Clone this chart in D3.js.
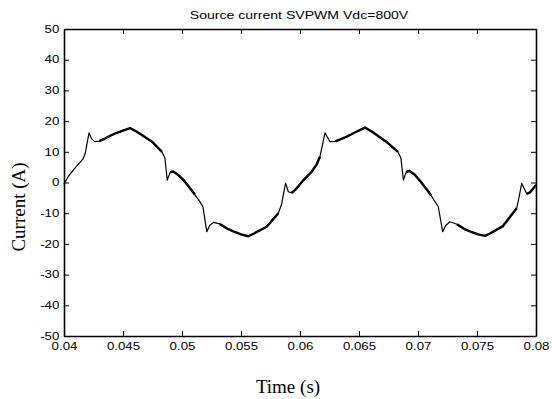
<!DOCTYPE html>
<html>
<head>
<meta charset="utf-8">
<script src="https://cdn.jsdelivr.net/npm/d3@7/dist/d3.min.js"></script>
<style>
body { margin: 0; background: #fff; }
svg { display: block; }
</style>
</head>
<body>
<svg id="chart" width="552" height="399"></svg>
<script>
// values
var time = [
	0.0400, 0.0404, 0.0410, 0.0416, 0.0418, 0.04212, 0.04235, 0.0426, 0.0430, 0.0435,
	0.0440, 0.04435, 0.0450, 0.0456, 0.0461, 0.0466, 0.04746, 0.0483, 0.04855, 0.04875,
	0.0490, 0.04925, 0.0497, 0.0502, 0.05068, 0.0511, 0.05153, 0.05178, 0.05210, 0.05235,
	0.05266, 0.0532, 0.05392, 0.0544, 0.0550, 0.05562, 0.0561, 0.05718, 0.05816, 0.05845,
	0.05853, 0.05878, 0.05901, 0.0593, 0.05972, 0.0603, 0.06099, 0.0614, 0.06169, 0.06212,
	0.06254, 0.0630, 0.06395, 0.0646, 0.06551, 0.0660, 0.0665, 0.0674, 0.0683, 0.06855,
	0.06876, 0.0690, 0.06926, 0.0697, 0.0702, 0.0707, 0.0711, 0.07172, 0.07209, 0.07235,
	0.07271, 0.0733, 0.0740, 0.0745, 0.0751, 0.07568, 0.0761, 0.0772, 0.07836, 0.0785,
	0.07879, 0.07921, 0.0795, 0.0800
];
var current = [
	-0.5, 2.2, 5.0, 7.6, 9.5, 16.2, 14.2, 13.3, 13.5, 14.4,
	15.4, 16.0, 16.9, 17.7, 16.7, 15.5, 13.3, 10.0, 8.0, 0.8,
	3.3, 3.6, 2.4, 0.5, -1.9, -4.0, -6.3, -8.0, -16.0, -14.0,
	-13.0, -13.5, -15.2, -16.0, -16.9, -17.5, -16.6, -14.4, -10.0, -7.0,
	-5.1, -0.2, -3.0, -3.4, -1.9, 0.8, 3.5, 5.8, 8.4, 16.2,
	13.3, 13.4, 14.9, 16.2, 17.9, 16.8, 15.5, 13.0, 10.0, 8.0,
	0.8, 3.4, 3.8, 2.6, 0.4, -2.0, -4.2, -7.9, -16.0, -14.0,
	-12.8, -13.6, -15.3, -16.1, -16.9, -17.4, -16.6, -14.2, -8.4, -6.0,
	-0.3, -3.7, -3.2, -0.8
];
// stretches where the switching ripple makes the trace look thick
var rippleWindows = [
	[0.0428, 0.0483], [0.0490, 0.0515], [0.0528, 0.0582], [0.0593, 0.0617],
	[0.0628, 0.0683], [0.0690, 0.0715], [0.0728, 0.0784], [0.0792, 0.0800]
];

var xTicks = [0.04, 0.045, 0.05, 0.055, 0.06, 0.065, 0.07, 0.075, 0.08];
var xTickLabels = ["0.04", "0.045", "0.05", "0.055", "0.06", "0.065", "0.07", "0.075", "0.08"];
var yTicks = [-50, -40, -30, -20, -10, 0, 10, 20, 30, 40, 50];
var yTickLabels = ["-50", "-40", "-30", "-20", "-10", "0", "10", "20", "30", "40", "50"];

var titleText = "Source current SVPWM Vdc=800V";
var xLabelText = "Time (s)";
var yLabelText = "Current (A)";

var plotLeft = 64, plotRight = 536, plotTop = 29, plotBottom = 336;
var tickLen = 5;
var stretch = 1.3;   // the figure's sans text is wide

var svg = d3.select("#chart");

var x = d3.scaleLinear().domain([0.04, 0.08]).range([plotLeft, plotRight]);
var y = d3.scaleLinear().domain([-50, 50]).range([plotBottom, plotTop]);

var points = time.map(function(t, i) { return { t: t, v: current[i] }; });

function inRipple(t) {
	for (var k = 0; k < rippleWindows.length; k++) {
		if (t >= rippleWindows[k][0] && t <= rippleWindows[k][1]) return true;
	}
	return false;
}

//trace
var line = d3.line()
	.x(function(d) { return x(d.t); })
	.y(function(d) { return y(d.v); });

svg.append("path")
	.datum(points)
	.attr("d", line)
	.attr("fill", "none")
	.attr("stroke", "#000")
	.attr("stroke-width", 1.2)
	.attr("stroke-linejoin", "round");

svg.append("path")
	.datum(points)
	.attr("d", line.defined(function(d) { return inRipple(d.t); }))
	.attr("fill", "none")
	.attr("stroke", "#000")
	.attr("stroke-width", 2.4)
	.attr("stroke-linejoin", "round");

//AXES
function styleAxis(g) {
	g.select(".domain").attr("stroke", "#000").attr("stroke-width", 1.6);
	g.selectAll(".tick line").attr("stroke", "#000").attr("stroke-width", 1);
	g.selectAll("text")
		.attr("font-family", "'Liberation Sans', Arial, sans-serif")
		.attr("font-size", 10.2)
		.attr("fill", "#000");
}

var gBottom = svg.append("g")
	.attr("transform", "translate(0," + plotBottom + ")")
	.call(d3.axisBottom(x).tickValues(xTicks)
		.tickFormat(function(d, i) { return xTickLabels[i]; })
		.tickSizeInner(-tickLen).tickSizeOuter(0).tickPadding(6.7));
styleAxis(gBottom);
gBottom.selectAll("text").attr("transform", "scale(" + stretch + ",1)");

var gLeft = svg.append("g")
	.attr("transform", "translate(" + plotLeft + ",0)")
	.call(d3.axisLeft(y).tickValues(yTicks)
		.tickFormat(function(d, i) { return yTickLabels[i]; })
		.tickSizeInner(-tickLen).tickSizeOuter(0).tickPadding(4.7));
styleAxis(gLeft);
gLeft.selectAll("text")
	.attr("x", -4.7 / stretch)
	.attr("transform", "scale(" + stretch + ",1)");

var gTop = svg.append("g")
	.attr("transform", "translate(0," + plotTop + ")")
	.call(d3.axisTop(x).tickValues(xTicks).tickFormat("")
		.tickSizeInner(-tickLen).tickSizeOuter(0));
styleAxis(gTop);

var gRight = svg.append("g")
	.attr("transform", "translate(" + plotRight + ",0)")
	.call(d3.axisRight(y).tickValues(yTicks).tickFormat("")
		.tickSizeInner(-tickLen).tickSizeOuter(0));
styleAxis(gRight);

//title and labels
svg.append("text")
	.attr("transform", "translate(299,19) scale(1.38,1)")
	.attr("text-anchor", "middle")
	.attr("font-family", "'Liberation Sans', Arial, sans-serif")
	.attr("font-size", 10.2)
	.text(titleText);

svg.append("text")
	.attr("x", 288)
	.attr("y", 393)
	.attr("text-anchor", "middle")
	.attr("font-family", "'Liberation Serif', 'Times New Roman', serif")
	.attr("font-size", 19)
	.text(xLabelText);

svg.append("text")
	.attr("transform", "translate(25,207) rotate(-90)")
	.attr("text-anchor", "middle")
	.attr("font-family", "'Liberation Serif', 'Times New Roman', serif")
	.attr("font-size", 19)
	.text(yLabelText);
</script>
</body>
</html>
